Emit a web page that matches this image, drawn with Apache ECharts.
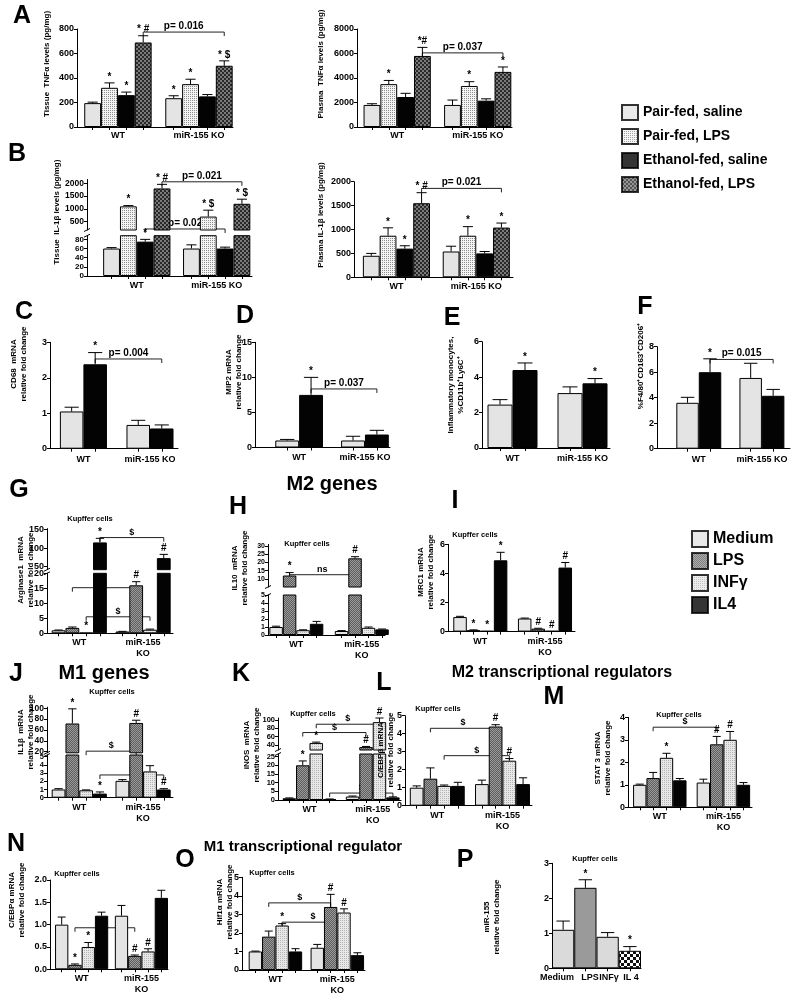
<!DOCTYPE html>
<html><head><meta charset="utf-8">
<script src="https://cdn.jsdelivr.net/npm/echarts@6/dist/echarts.min.js"></script>
<style>html,body{margin:0;padding:0;background:#fff}#c{width:800px;height:998px}</style>
</head><body><div id="c"></div>
<script>
const FF = '"Liberation Sans", Arial, Helvetica, sans-serif';

// ---------------- DATA ----------------
const groupsA = ['WT', 'miR-155 KO'];
const groupsK = ['WT', 'miR-155\nKO'];
const treatA = ['Pair-fed, saline', 'Pair-fed, LPS', 'Ethanol-fed, saline', 'Ethanol-fed, LPS'];
const treatK = ['Medium', 'LPS', 'INFγ', 'IL4'];
const treatP = ['Medium', 'LPS', 'INFγ', 'IL 4'];

// order: WT x4, KO x4
const tnfTissue = [195, 320, 260, 690, 235, 350, 250, 500];
const tnfTissueErr = [8, 40, 25, 55, 20, 40, 15, 40];
const tnfTissueSig = ['', '*', '*', '* #', '*', '*', '', '* $'];
const tnfTissueBr = [[3, 7, 775, 'p= 0.016']];

const tnfPlasma = [1800, 3500, 2450, 5800, 1800, 3350, 2150, 4500];
const tnfPlasmaErr = [100, 300, 300, 700, 400, 350, 150, 400];
const tnfPlasmaSig = ['', '*', '', '*#', '', '*', '', '*'];
const tnfPlasmaBr = [[3, 7, 6050, 'p= 0.037']];

const il1bTissue = [60, 1100, 75, 1800, 60, 700, 60, 1200];
const il1bTissueErr = [2, 30, 5, 160, 8, 250, 3, 180];
const il1bTissueSig = ['', '*', '*', '* #', '', '* $', '', '* $'];
const il1bTissueBr = [[3, 7, 2060, 'p= 0.021'], [2, 6, 215, 'p= 0.02']];

const il1bPlasma = [450, 870, 600, 1550, 540, 870, 500, 1040];
const il1bPlasmaErr = [50, 165, 60, 220, 110, 190, 40, 95];
const il1bPlasmaSig = ['', '*', '*', '* #', '', '*', '', '*'];
const il1bPlasmaBr = [[3, 7, 1860, 'p= 0.021']];

// WT PF, WT EF, KO PF, KO EF
const cd68 = [1.05, 2.38, 0.67, 0.57];
const cd68Err = [0.12, 0.33, 0.13, 0.1];
const cd68Sig = ['', '*', '', ''];
const cd68Br = [[1, 3, 2.53, 'p= 0.004']];

const mip2 = [1.0, 7.5, 1.0, 1.85];
const mip2Err = [0.15, 2.5, 0.6, 0.6];
const mip2Sig = ['', '*', '', ''];
const mip2Br = [[1, 3, 8.35, 'p= 0.037']];

const inflMono = [2.45, 4.4, 3.1, 3.65];
const inflMonoErr = [0.28, 0.4, 0.35, 0.27];
const inflMonoSig = ['', '*', '', '*'];

const m2Mac = [3.6, 6.0, 5.55, 4.15];
const m2MacErr = [0.43, 1.05, 1.15, 0.5];
const m2MacSig = ['', '*', '', ''];
const m2MacBr = [[1, 3, 7.0, 'p= 0.015']];

// Kupffer cells: WT Medium, LPS, INFγ, IL4, KO Medium, LPS, INFγ, IL4
const arg1 = [1.0, 1.8, 0.2, 115, 0.6, 16, 1.2, 73];
const arg1Err = [0.1, 0.3, 0, 11, 0.05, 1.2, 0.2, 10];
const arg1Sig = ['', '', '*', '*', '', '#', '', '#'];
const arg1Br = [[3, 7, 128, '$'], [1, 5, 15.2, '$'], [2, 6, 5.5, '$']];

const il10 = [1.0, 12, 0.6, 1.4, 0.5, 22.5, 0.9, 0.7];
const il10Err = [0.1, 1.8, 0.05, 0.3, 0.05, 1, 0.1, 0.05];
const il10Sig = ['', '*', '', '', '', '#', '', ''];
const il10Br = [[1, 5, 12.5, 'ns']];

const mrc1 = [1.0, 0.1, 0.05, 4.9, 0.9, 0.2, 0.05, 4.4];
const mrc1Err = [0.05, 0.02, 0, 0.55, 0.03, 0.03, 0, 0.35];
const mrc1Sig = ['', '*', '*', '*', '', '#', '#', '#'];

const il1b = [1.0, 72, 0.9, 0.5, 2.05, 73, 3.2, 1.0];
const il1bErr = [0.1, 27, 0.05, 0.2, 0.15, 5, 0.7, 0.1];
const il1bSig = ['', '*', '', '*', '', '#', '', '#'];
const il1bBr = [[2, 5, 21, '$'], [3, 7, 2.77, '$']];

const inos = [1.0, 20, 45, 0.5, 2.0, 35, 95, 1.5];
const inosErr = [0.2, 2.5, 2, 0.1, 0.3, 1.5, 10, 0.3];
const inosSig = ['', '*', '*', '', '', '#', '#', ''];
const inosBr = [[2, 6, 90, '$'], [1, 5, 70, '$'], [3, 7, 4, '$']];

const cebpb = [1.0, 1.5, 1.1, 1.1, 1.2, 4.4, 2.5, 1.2];
const cebpbErr = [0.1, 0.6, 0.05, 0.2, 0.22, 0.1, 0.12, 0.35];
const cebpbSig = ['', '', '', '', '', '#', '#', ''];
const cebpbBr = [[1, 5, 4.3, '$'], [2, 6, 2.78, '$']];

const stat3 = [1.0, 1.3, 2.2, 1.2, 1.1, 2.8, 3.0, 1.0];
const stat3Err = [0.03, 0.25, 0.2, 0.08, 0.15, 0.35, 0.37, 0.1];
const stat3Sig = ['', '', '*', '', '', '#', '#', ''];
const stat3Br = [[1, 5, 3.56, '$']];

const cebpa = [1.0, 0.1, 0.5, 1.2, 1.2, 0.3, 0.4, 1.6];
const cebpaErr = [0.17, 0.02, 0.1, 0.08, 0.23, 0.02, 0.06, 0.17];
const cebpaSig = ['', '*', '*', '', '', '#', '#', ''];
const cebpaBr = [[1, 5, 0.93, '$']];

const hif1a = [1.0, 1.8, 2.4, 1.0, 1.2, 3.4, 3.1, 0.8];
const hif1aErr = [0.02, 0.3, 0.1, 0.15, 0.18, 0.68, 0.2, 0.13];
const hif1aSig = ['', '', '*', '', '', '#', '#', ''];
const hif1aBr = [[1, 5, 3.62, '$'], [2, 6, 2.58, '$']];

// Medium, LPS, INFγ, IL4
const mir155 = [1.1, 2.3, 0.9, 0.5];
const mir155Err = [0.25, 0.23, 0.12, 0.12];
const mir155Sig = ['', '*', '', '*'];

// ---------------- STYLES ----------------
function pattern(bg, fg, cell, kind) {
  const c = document.createElement('canvas');
  const s = kind === 'check' ? cell * 2 : cell;
  c.width = s; c.height = s;
  const g = c.getContext('2d');
  g.fillStyle = bg; g.fillRect(0, 0, s, s);
  g.fillStyle = fg;
  if (kind === 'check') { g.fillRect(0, 0, cell, cell); g.fillRect(cell, cell, cell, cell); }
  else { g.fillRect(0, 0, 1, 1); }
  return { image: c, repeat: 'repeat' };
}
const fillsA = ['#e4e4e4', pattern('#f4f4f4', '#8c8c8c', 2, 'dot'), '#030303', pattern('#2a2a2a', '#7a7a7a', 2, 'check')];
const fillsCF = ['#e4e4e4', '#030303'];
const fillsK = ['#e4e4e4', pattern('#5e5e5e', '#9a9a9a', 1, 'check'), pattern('#e8e8e8', '#b4b4b4', 2, 'dot'), '#030303'];
const fillsP = ['#dadada', '#9a9a9a', '#dadada', pattern('#ffffff', '#111111', 3, 'check')];

// ---------------- BUILD ----------------
const opt = { animation: false, backgroundColor: '#fff', grid: [], xAxis: [], yAxis: [], series: [], graphic: [], legend: [] };

function buildPanel(L, D) {
  const per = L.per;
  const pos = i => (per && i >= per ? i + L.g : i);
  const b = (L.x1 - L.x0) / (L.xmax - L.xmin);
  const cap = b * 0.3;
  const tickPos = D.vals.map((_, i) => pos(i));
  const labelPos = L.labelPos || (per ? [(per - 1) / 2, per + L.g + (per - 1) / 2] : tickPos);
  const labelTxt = per ? L.groups : L.cats;
  const lowerMax = L.segs[0].max;
  const multi = L.segs.length > 1;
  L.segs.forEach((s, si) => {
    const gi = opt.grid.length;
    const fs = s.fs || 9;
    opt.grid.push({ left: L.x0, top: s.top, width: L.x1 - L.x0, height: s.bot - s.top });
    opt.xAxis.push({
      gridIndex: gi, type: 'value', min: L.xmin, max: L.xmax, show: si === 0,
      axisLine: { show: true, onZero: false, lineStyle: { color: '#000', width: 1 } },
      axisTick: { show: true, customValues: tickPos, length: 3, lineStyle: { color: '#000' } },
      axisLabel: {
        customValues: labelPos, showMinLabel: true, showMaxLabel: true, hideOverlap: false,
        formatter: v => { const k = labelPos.findIndex(p => Math.abs(p - v) < 1e-6); return k >= 0 ? labelTxt[k] : ''; },
        margin: L.xm || 4, fontSize: 9, fontWeight: 'bold', fontFamily: FF, color: '#000', lineHeight: 11
      },
      splitLine: { show: false }
    });
    opt.yAxis.push({
      gridIndex: gi, type: 'value', min: s.min, max: s.max,
      axisLine: { show: true, onZero: false, lineStyle: { color: '#000', width: 1 } },
      axisTick: { show: true, customValues: s.ticks, length: 3, lineStyle: { color: '#000' } },
      axisLabel: { customValues: s.ticks, showMinLabel: true, showMaxLabel: true, hideOverlap: false,
        formatter: s.fmt || (v => String(v)), margin: 3, fontSize: fs, lineHeight: fs - 1,
        fontWeight: 'bold', fontFamily: FF, color: '#000' },
      splitLine: { show: false }
    });
    // brackets
    const bk = (D.br || []).filter(br => !multi || (si === 0 ? br[2] <= lowerMax : br[2] > lowerMax));
    if (bk.length) {
      opt.series.push({
        type: 'custom', xAxisIndex: gi, yAxisIndex: gi, silent: true, z: 2,
        data: bk.map(br => [pos(br[0]), br[2], pos(br[1])]),
        renderItem: (params, api) => {
          const a = api.coord([api.value(0), api.value(1)]);
          const c = api.coord([api.value(2), api.value(1)]);
          const lab = bk[params.dataIndex][3];
          return { type: 'group', children: [
            { type: 'polyline', shape: { points: [[a[0], a[1] + 4], [a[0], a[1]], [c[0], c[1]], [c[0], c[1] + 4]] }, style: { stroke: '#222', lineWidth: 1, fill: null } },
            { type: 'text', x: (a[0] + c[0]) / 2, y: a[1] - 1, style: { text: lab, align: 'center', verticalAlign: 'bottom', fontSize: lab[0] === 'p' ? 10 : 9, fontWeight: 'bold', fontFamily: FF, fill: '#000' } }
          ] };
        }
      });
    }
    // bars
    const data = [];
    D.vals.forEach((v, i) => {
      if (si === 1 && v <= s.min) return;
      data.push({ value: [pos(i), v], itemStyle: { color: L.fills[per ? i % per : i] } });
    });
    opt.series.push({ type: 'bar', xAxisIndex: gi, yAxisIndex: gi, barWidth: b, clip: true, silent: true, z: 3, data,
      itemStyle: { borderColor: '#000', borderWidth: 1 } });
    // error bars + significance marks
    const pts = [], txt = [];
    D.vals.forEach((v, i) => {
      if (multi && (si === 0 ? v > lowerMax : v <= lowerMax)) return;
      pts.push([pos(i), v, D.errs[i]]); txt.push(D.sig[i] || '');
    });
    opt.series.push({
      type: 'custom', xAxisIndex: gi, yAxisIndex: gi, silent: true, z: 5, data: pts,
      renderItem: (params, api) => {
        const x = api.value(0), v = api.value(1), e = api.value(2);
        const p0 = api.coord([x, v]), p1 = api.coord([x, v + e]);
        const ch = [];
        if (e > 0) {
          ch.push({ type: 'line', shape: { x1: p0[0], y1: p0[1], x2: p1[0], y2: p1[1] }, style: { stroke: '#000', lineWidth: 1 } });
          ch.push({ type: 'line', shape: { x1: p1[0] - cap, y1: p1[1], x2: p1[0] + cap, y2: p1[1] }, style: { stroke: '#000', lineWidth: 1 } });
        }
        const t = txt[params.dataIndex];
        if (t) ch.push({ type: 'text', x: p1[0], y: p1[1] - 1, style: { text: t, align: 'center', verticalAlign: 'bottom', fontSize: 10, fontWeight: 'bold', fontFamily: FF, fill: '#000' } });
        return { type: 'group', children: ch };
      }
    });
  });
  // small break marks on a broken y axis
  if (multi) {
    [L.segs[0].top, L.segs[1].bot].forEach(y => opt.graphic.push({ type: 'line', silent: true, z: 10,
      shape: { x1: L.x0 - 3, y1: y + 1.5, x2: L.x0 + 3, y2: y - 1.5 }, style: { stroke: '#000', lineWidth: 1 } }));
  }
  if (L.name) addText(L.name[0], L.name[1], L.name[2], 8, true);
  if (L.title) addText('Kupffer cells', L.title[0], L.title[1], 7.5, false);
}

function addText(text, x, y, size, rotate) {
  opt.graphic.push({ type: 'text', x, y, rotation: rotate ? Math.PI / 2 : 0, z: 10, silent: true,
    style: { text, align: 'center', verticalAlign: 'middle', fontSize: size, fontWeight: 'bold', fontFamily: FF, fill: '#000', lineHeight: size + 2 } });
}

// ---------------- PANELS ----------------
buildPanel({ x0: 77, x1: 233, xmin: -0.93, xmax: 8.33, g: 0.81, per: 4, groups: groupsA, fills: fillsA, xm: 3,
  segs: [{ min: 0, max: 800, top: 29, bot: 127, ticks: [0, 200, 400, 600, 800] }],
  name: ['Tissue  TNFα levels (pg/mg)', 47, 64] },
  { vals: tnfTissue, errs: tnfTissueErr, sig: tnfTissueSig, br: tnfTissueBr });
buildPanel({ x0: 357, x1: 512, xmin: -0.89, xmax: 8.33, g: 0.79, per: 4, groups: groupsA, fills: fillsA, xm: 3,
  segs: [{ min: 0, max: 8000, top: 29, bot: 127, ticks: [0, 2000, 4000, 6000, 8000] }],
  name: ['Plasma  TNFα levels (pg/mg)', 321, 64] },
  { vals: tnfPlasma, errs: tnfPlasmaErr, sig: tnfPlasmaSig, br: tnfPlasmaBr });
buildPanel({ x0: 87, x1: 252, xmin: -1.46, xmax: 8.35, g: 0.75, per: 4, groups: groupsA, fills: fillsA, xm: 4,
  segs: [{ min: 0, max: 88, top: 235.7, bot: 276, ticks: [0, 20, 40, 60, 80], fs: 8 },
         { min: 175, max: 2150, top: 179.5, bot: 230, ticks: [500, 1000, 1500, 2000], fs: 8.5 }],
  name: ['Tissue  IL-1β levels (pg/mg)', 57, 212] },
  { vals: il1bTissue, errs: il1bTissueErr, sig: il1bTissueSig, br: il1bTissueBr });
buildPanel({ x0: 354, x1: 513, xmin: -1.03, xmax: 8.45, g: 0.76, per: 4, groups: groupsA, fills: fillsA, xm: 4,
  segs: [{ min: 0, max: 2000, top: 181.7, bot: 277.3, ticks: [0, 500, 1000, 1500, 2000] }],
  name: ['Plasma IL-1β levels (pg/mg)', 321, 215] },
  { vals: il1bPlasma, errs: il1bPlasmaErr, sig: il1bPlasmaSig, br: il1bPlasmaBr });

buildPanel({ x0: 50, x1: 178, xmin: -0.92, xmax: 4.52, g: 0.83, per: 2, groups: groupsA, fills: fillsCF, xm: 5,
  segs: [{ min: 0, max: 3, top: 342.3, bot: 448.7, ticks: [0, 1, 2, 3] }],
  name: ['CD68  mRNA\nrelative fold change', 19, 364] },
  { vals: cd68, errs: cd68Err, sig: cd68Sig, br: cd68Br });
buildPanel({ x0: 255, x1: 390, xmin: -1.35, xmax: 4.31, g: 0.76, per: 2, groups: groupsA, fills: fillsCF, xm: 5,
  segs: [{ min: 0, max: 15, top: 342.3, bot: 447.5, ticks: [0, 5, 10, 15] }],
  name: ['MIP2 mRNA\nrelative fold change', 234, 372] },
  { vals: mip2, errs: mip2Err, sig: mip2Sig, br: mip2Br });
buildPanel({ x0: 482, x1: 610, xmin: -0.72, xmax: 4.4, g: 0.8, per: 2, groups: groupsA, fills: fillsCF, xm: 5,
  segs: [{ min: 0, max: 6, top: 341.7, bot: 448, ticks: [0, 2, 4, 6] }],
  name: ['Inflammatory monocytes,\n%CD11b⁺Ly6C⁺', 456, 385] },
  { vals: inflMono, errs: inflMonoErr, sig: inflMonoSig, br: [] });
buildPanel({ x0: 657, x1: 790, xmin: -1.36, xmax: 4.56, g: 0.81, per: 2, groups: groupsA, fills: fillsCF, xm: 5,
  segs: [{ min: 0, max: 8, top: 346.7, bot: 448.7, ticks: [0, 2, 4, 6, 8] }],
  name: ['%F4/80⁺CD163⁺CD206⁺', 641, 366] },
  { vals: m2Mac, errs: m2MacErr, sig: m2MacSig, br: m2MacBr });

buildPanel({ x0: 47, x1: 173, xmin: -0.84, xmax: 8.3, g: 0.63, per: 4, groups: groupsK, fills: fillsK,
  segs: [{ min: 0, max: 20, top: 573.3, bot: 633.3, ticks: [0, 5, 10, 15, 20] },
         { min: 42, max: 152, top: 528.6, bot: 569.7, ticks: [50, 100, 150] }],
  name: ['Arginase1  mRNA\nrelative fold change', 26, 570], title: [90, 519] },
  { vals: arg1, errs: arg1Err, sig: arg1Sig, br: arg1Br });
buildPanel({ x0: 268, x1: 385, xmin: -0.6, xmax: 8.07, g: 0.85, per: 4, groups: groupsK, fills: fillsK,
  segs: [{ min: 0, max: 5, top: 595, bot: 635, ticks: [0, 1, 2, 3, 4, 5], fs: 7 },
         { min: 5, max: 31, top: 544.4, bot: 587, ticks: [10, 15, 20, 25, 30], fs: 7 }],
  name: ['IL10  mRNA\nrelative fold change', 240, 568], title: [307, 544] },
  { vals: il10, errs: il10Err, sig: il10Sig, br: il10Br });
buildPanel({ x0: 448, x1: 575, xmin: -0.89, xmax: 8.5, g: 0.78, per: 4, groups: groupsK, fills: fillsK,
  segs: [{ min: 0, max: 6, top: 544.3, bot: 631.6, ticks: [0, 2, 4, 6] }],
  name: ['MRC1 mRNA\nrelative fold change', 426, 572], title: [475, 535] },
  { vals: mrc1, errs: mrc1Err, sig: mrc1Sig, br: [] });

buildPanel({ x0: 47, x1: 173, xmin: -0.84, xmax: 8.3, g: 0.63, per: 4, groups: groupsK, fills: fillsK,
  segs: [{ min: 0, max: 5.2, top: 755, bot: 797.7, ticks: [0, 1, 2, 3, 4, 5], fs: 7.5 },
         { min: 18, max: 102, top: 707.2, bot: 752.8, ticks: [20, 40, 60, 80, 100], fs: 8.5 }],
  name: ['IL1β  mRNA\nrelative fold change', 26, 732], title: [112, 692] },
  { vals: il1b, errs: il1bErr, sig: il1bSig, br: il1bBr });
buildPanel({ x0: 278, x1: 401, xmin: -0.84, xmax: 8.3, g: 0.7, per: 4, groups: groupsK, fills: fillsK,
  segs: [{ min: 0, max: 26.5, top: 754, bot: 800, ticks: [0, 5, 10, 15, 20, 25], fs: 7.5 },
         { min: 28, max: 105, top: 718, bot: 750, ticks: [40, 60, 80, 100], fs: 7.5 }],
  name: ['iNOS  mRNA\nrelative fold change', 252, 745], title: [313, 714] },
  { vals: inos, errs: inosErr, sig: inosSig, br: inosBr });
buildPanel({ x0: 405, x1: 532, xmin: -0.85, xmax: 8.4, g: 0.75, per: 4, groups: groupsK, fills: fillsK,
  segs: [{ min: 0, max: 5, top: 715.7, bot: 805.7, ticks: [0, 1, 2, 3, 4, 5] }],
  name: ['C/EBPβ mRNA\nrelative fold change', 386, 750], title: [438, 709] },
  { vals: cebpb, errs: cebpbErr, sig: cebpbSig, br: cebpbBr });
buildPanel({ x0: 628, x1: 752, xmin: -0.88, xmax: 8.4, g: 0.76, per: 4, groups: groupsK, fills: fillsK,
  segs: [{ min: 0, max: 4, top: 717.3, bot: 807.3, ticks: [0, 1, 2, 3, 4] }],
  name: ['STAT 3 mRNA\nrelative fold change', 603, 758], title: [679, 715] },
  { vals: stat3, errs: stat3Err, sig: stat3Sig, br: stat3Br });

buildPanel({ x0: 50, x1: 168, xmin: -0.88, xmax: 8.0, g: 0.5, per: 4, groups: groupsK, fills: fillsK,
  segs: [{ min: 0, max: 2, top: 880, bot: 969.3, ticks: [0, 0.5, 1, 1.5, 2], fmt: v => v.toFixed(1) }],
  name: ['C/EBPα mRNA\nrelative fold change', 17, 900], title: [77, 874] },
  { vals: cebpa, errs: cebpaErr, sig: cebpaSig, br: cebpaBr });
buildPanel({ x0: 242, x1: 365, xmin: -1.0, xmax: 8.2, g: 0.63, per: 4, groups: groupsK, fills: fillsK,
  segs: [{ min: 0, max: 5, top: 877.3, bot: 970, ticks: [0, 1, 2, 3, 4, 5] }],
  name: ['Hif1α mRNA\nrelative fold change', 225, 902], title: [272, 873] },
  { vals: hif1a, errs: hif1aErr, sig: hif1aSig, br: hif1aBr });
buildPanel({ x0: 552, x1: 641, xmin: -0.5, xmax: 3.5, per: 0, cats: treatP, fills: fillsP, labelPos: [-0.27, 1.21, 2.06, 3.05],
  segs: [{ min: 0, max: 3, top: 863.3, bot: 968.3, ticks: [0, 1, 2, 3] }],
  name: ['miR-155\nrelative fold change', 492, 917], title: [595, 859] },
  { vals: mir155, errs: mir155Err, sig: mir155Sig, br: [] });

// ---------------- LETTERS & HEADINGS ----------------
[['A', 22, 16], ['B', 17, 154], ['C', 24, 312], ['D', 245, 316], ['E', 452, 318], ['F', 645, 307],
 ['G', 19, 490], ['H', 238, 507], ['I', 455, 501], ['J', 16, 674], ['K', 241, 674], ['L', 384, 683],
 ['M', 554, 697], ['N', 16, 844], ['O', 185, 860], ['P', 465, 860]].forEach(l => addText(l[0], l[1], l[2], 25, false));
addText('M2 genes', 332, 484, 20, false);
addText('M1 genes', 104, 673, 20, false);
addText('M2 transcriptional regulators', 562, 673, 16, false);
addText('M1 transcriptional regulator', 303, 847, 15, false);

// ---------------- LEGENDS ----------------
treatA.forEach((n, i) => opt.series.push({ name: n, type: 'scatter', xAxisIndex: 0, yAxisIndex: 0, data: [],
  itemStyle: { color: fillsA[i], borderColor: '#000', borderWidth: 1 } }));
treatK.forEach((n, i) => opt.series.push({ name: n, type: 'scatter', xAxisIndex: 0, yAxisIndex: 0, data: [],
  itemStyle: { color: fillsK[i], borderColor: '#000', borderWidth: 1 } }));
opt.legend.push({ data: treatA, orient: 'vertical', left: 616, top: 99, itemWidth: 16, itemHeight: 15, itemGap: 7,
  icon: 'rect', selectedMode: false, textStyle: { fontSize: 14, fontWeight: 'bold', fontFamily: FF, color: '#000' } });
opt.legend.push({ data: treatK, orient: 'vertical', left: 686, top: 525, itemWidth: 16, itemHeight: 16, itemGap: 4,
  icon: 'rect', selectedMode: false, textStyle: { fontSize: 16, fontWeight: 'bold', fontFamily: FF, color: '#000' } });

const chart = echarts.init(document.getElementById('c'), null, { renderer: 'canvas', width: 800, height: 998 });
chart.setOption(opt);
</script></body></html>
